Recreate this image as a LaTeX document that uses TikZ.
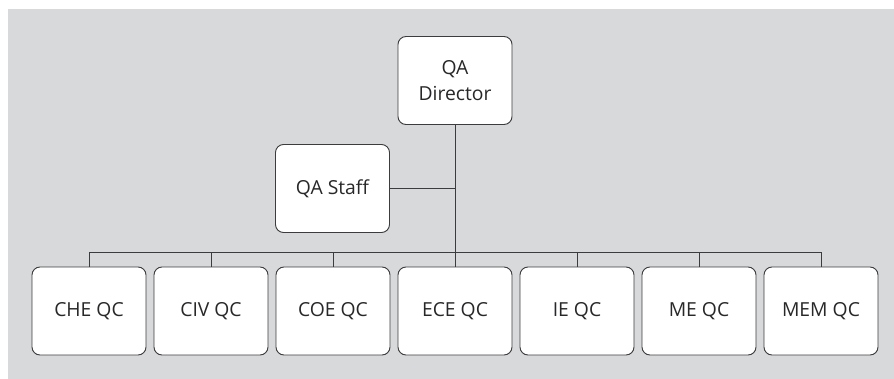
\documentclass[tikz,border=0pt]{standalone}
\usepackage{fontspec}
\setmainfont{Open Sans}
\definecolor{panelgray}{RGB}{216,217,219}
\definecolor{inkgray}{RGB}{60,60,62}
\definecolor{textgray}{RGB}{40,40,42}

\begin{document}
\begin{tikzpicture}[x=0.75pt,y=-0.75pt]

%
% Styles
%
\tikzstyle{unit} = [rectangle,rounded corners=6pt,draw=inkgray,fill=white,line width=0.7pt,
  minimum width=85.5pt,minimum height=66pt,inner sep=0pt,align=center,
  font=\fontsize{14.5}{20}\selectfont,text=textgray]
\tikzstyle{link} = [draw=inkgray,line width=0.7pt]

\useasboundingbox (0,0) rectangle (894,379);
\fill[panelgray] (8,9) rectangle (894,379);

\node[unit] (dir)   at (455, 80.5) {QA\\Director};
\node[unit] (staff) at (332.5,188.5) {QA Staff};

\node[unit] (che) at ( 89,311) {CHE QC};
\node[unit] (civ) at (211,311) {CIV QC};
\node[unit] (coe) at (333,311) {COE QC};
\node[unit] (ece) at (455,311) {ECE QC};
\node[unit] (ie)  at (577,311) {IE QC};
\node[unit] (me)  at (699,311) {ME QC};
\node[unit] (mem) at (821,311) {MEM QC};

\coordinate (bus) at (455,252);

\draw[link] (dir.south) -- (bus);
\draw[link] (staff.east) -- (staff.east -| dir.south);
\draw[link] (che.north) -- (che.north |- bus) -- (mem.north |- bus) -- (mem.north);
\foreach \u in {civ,coe,ece,ie,me}
  \draw[link] (\u.north) -- (\u.north |- bus);

\end{tikzpicture}
\end{document}
